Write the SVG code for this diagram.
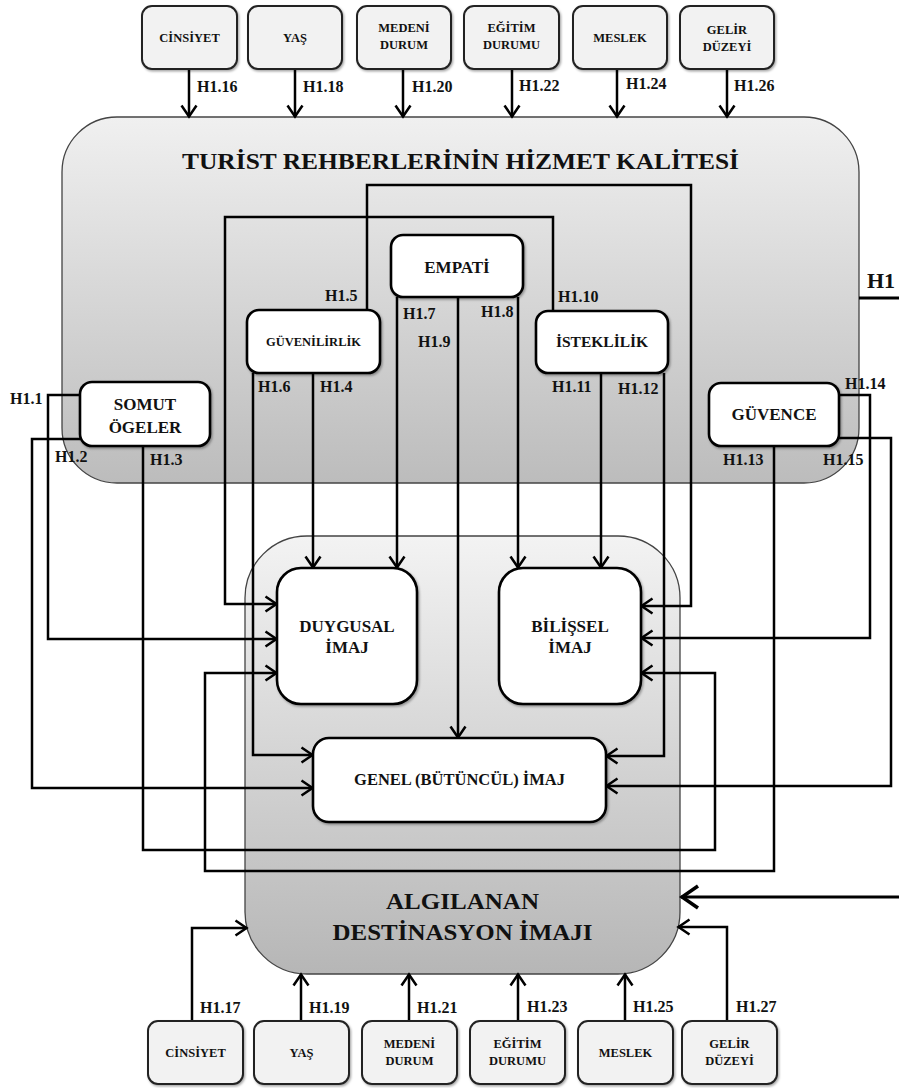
<svg xmlns="http://www.w3.org/2000/svg" width="899" height="1088" viewBox="0 0 899 1088">
<defs>
<linearGradient id="gTop" x1="0" y1="0" x2="0" y2="1">
<stop offset="0" stop-color="#f0f0f0"/>
<stop offset="1" stop-color="#bcbcbc"/>
</linearGradient>
<linearGradient id="gBot" x1="0" y1="0" x2="0" y2="1">
<stop offset="0" stop-color="#f3f3f3"/>
<stop offset="1" stop-color="#b6b6b6"/>
</linearGradient>
<filter id="sh" x="-10%" y="-10%" width="125%" height="125%">
<feDropShadow dx="1.2" dy="1.5" stdDeviation="1.2" flood-color="#000" flood-opacity="0.35"/>
</filter>
<marker id="ah" markerUnits="userSpaceOnUse" markerWidth="15" markerHeight="18" viewBox="0 0 15 18" refX="13" refY="9" orient="auto">
<path d="M1.5,1.5 L12.5,9 L1.5,16.5" fill="none" stroke="#000" stroke-width="2.5"/>
</marker>
<marker id="ahBig" markerUnits="userSpaceOnUse" markerWidth="22" markerHeight="26" viewBox="0 0 22 26" refX="20" refY="13" orient="auto">
<path d="M3,2 L19,13 L3,24" fill="none" stroke="#000" stroke-width="3.6"/>
</marker>
<style>
.cont{stroke:#444;stroke-width:1.3}
.demo{fill:#f2f2f2;stroke:#222;stroke-width:2;filter:url(#sh)}
.node{fill:#fff;stroke:#000;stroke-width:2.6;filter:url(#sh)}
text{font-family:"Liberation Serif","Times New Roman",serif;font-weight:bold;fill:#111}
.t{text-anchor:middle}
.ds{font-size:12.5px}
.lbl{font-size:16px}
.c path{fill:none;stroke:#000;stroke-width:2.5;marker-end:url(#ah)}
.c path.nm{marker-end:none}
</style>
</defs>
<rect width="899" height="1088" fill="#fff"/>

<g id="hizmet-kalitesi">
<rect class="cont" x="62" y="117" width="797" height="366" rx="55" fill="url(#gTop)"/>
<text class="t" x="460.5" y="169" font-size="24" textLength="557" lengthAdjust="spacingAndGlyphs">TURİST REHBERLERİNİN HİZMET KALİTESİ</text>
</g>
<g id="destinasyon-imaji">
<rect class="cont" x="245" y="536" width="435" height="438" rx="62" fill="url(#gBot)"/>
<text class="t" x="462.5" y="909" font-size="24" textLength="153" lengthAdjust="spacingAndGlyphs">ALGILANAN</text>
<text class="t" x="462.5" y="940" font-size="24" textLength="260" lengthAdjust="spacingAndGlyphs">DESTİNASYON İMAJI</text>
</g>

<g id="connectors" class="c">
<path d="M189,69 V117"/>
<path d="M295,69 V117"/>
<path d="M403,69 V117"/>
<path d="M512,69 V117"/>
<path d="M617,69 V117"/>
<path d="M727,69 V117"/>
<path d="M80,395 H48 V639 H277"/>
<path d="M80,439 H32 V788 H313"/>
<path d="M143,446 V850 H715 V673 H641"/>
<path d="M313,373 V568"/>
<path d="M367,310 V185 H691 V606 H641"/>
<path d="M253,373 V755 H313"/>
<path d="M397,297 V568"/>
<path d="M518,297 V568"/>
<path d="M458,297 V738"/>
<path d="M553,311 V217 H225 V604 H277"/>
<path d="M601,373 V568"/>
<path d="M664,373 V756 H606"/>
<path d="M774,446 V871 H205 V673 H277"/>
<path d="M839,395 H870 V638 H641"/>
<path d="M839,438 H891 V786 H606"/>
<path d="M192,1021 V928 H247"/>
<path d="M301,1021 V974"/>
<path d="M409,1021 V974"/>
<path d="M518,1021 V974"/>
<path d="M625,1021 V974"/>
<path d="M727,1021 V927 H678"/>
<path class="nm" d="M859,298 H899" style="stroke-width:3.2"/>
<path d="M899,897 H681" style="stroke-width:3.2;marker-end:url(#ahBig)"/>
</g>

<g id="labels" class="lbl">
<text x="197" y="92">H1.16</text>
<text x="303" y="92">H1.18</text>
<text x="412" y="92">H1.20</text>
<text x="519" y="91">H1.22</text>
<text x="626" y="89">H1.24</text>
<text x="734" y="91">H1.26</text>
<text x="325" y="301">H1.5</text>
<text x="403" y="319">H1.7</text>
<text x="418" y="347">H1.9</text>
<text x="481" y="317">H1.8</text>
<text x="558" y="302">H1.10</text>
<text x="258" y="392">H1.6</text>
<text x="320" y="392">H1.4</text>
<text x="552" y="392">H1.11</text>
<text x="618" y="394">H1.12</text>
<text x="10" y="404">H1.1</text>
<text x="55" y="462">H1.2</text>
<text x="150" y="465">H1.3</text>
<text x="845" y="389">H1.14</text>
<text x="723" y="465">H1.13</text>
<text x="823" y="465">H1.15</text>
<text x="200" y="1013">H1.17</text>
<text x="309" y="1013">H1.19</text>
<text x="417" y="1013">H1.21</text>
<text x="527" y="1012">H1.23</text>
<text x="633" y="1012">H1.25</text>
<text x="736" y="1012">H1.27</text>
<text x="867" y="288" font-size="22">H1</text>
</g>

<g id="cinsiyet-top"><rect class="demo" x="142" y="6" width="95" height="63" rx="10"/><text class="t ds" x="189.5" y="42">CİNSİYET</text></g>
<g id="yas-top"><rect class="demo" x="248" y="6" width="94" height="63" rx="10"/><text class="t ds" x="295" y="42">YAŞ</text></g>
<g id="medeni-top"><rect class="demo" x="357" y="6" width="94" height="63" rx="10"/><text class="t ds" x="404" y="32">MEDENİ</text><text class="t ds" x="404" y="49">DURUM</text></g>
<g id="egitim-top"><rect class="demo" x="464" y="6" width="95" height="63" rx="10"/><text class="t ds" x="511.5" y="32">EĞİTİM</text><text class="t ds" x="511.5" y="49">DURUMU</text></g>
<g id="meslek-top"><rect class="demo" x="573" y="6" width="94" height="63" rx="10"/><text class="t ds" x="620" y="42">MESLEK</text></g>
<g id="gelir-top"><rect class="demo" x="680" y="6" width="94" height="63" rx="10"/><text class="t ds" x="727" y="34">GELİR</text><text class="t ds" x="727" y="51">DÜZEYİ</text></g>

<g id="cinsiyet-bot"><rect class="demo" x="148" y="1021" width="95" height="63" rx="10"/><text class="t ds" x="195.5" y="1057">CİNSİYET</text></g>
<g id="yas-bot"><rect class="demo" x="254" y="1021" width="95" height="63" rx="10"/><text class="t ds" x="301.5" y="1057">YAŞ</text></g>
<g id="medeni-bot"><rect class="demo" x="362" y="1021" width="95" height="63" rx="10"/><text class="t ds" x="409.5" y="1048">MEDENİ</text><text class="t ds" x="409.5" y="1065">DURUM</text></g>
<g id="egitim-bot"><rect class="demo" x="470" y="1021" width="95" height="63" rx="10"/><text class="t ds" x="517.5" y="1048">EĞİTİM</text><text class="t ds" x="517.5" y="1065">DURUMU</text></g>
<g id="meslek-bot"><rect class="demo" x="578" y="1021" width="95" height="63" rx="10"/><text class="t ds" x="625.5" y="1057">MESLEK</text></g>
<g id="gelir-bot"><rect class="demo" x="682" y="1021" width="95" height="63" rx="10"/><text class="t ds" x="729.5" y="1048">GELİR</text><text class="t ds" x="729.5" y="1065">DÜZEYİ</text></g>

<g id="somut-ogeler"><rect class="node" x="80" y="382" width="130" height="64" rx="12"/><text class="t" x="145" y="410" font-size="17">SOMUT</text><text class="t" x="145" y="433" font-size="17">ÖGELER</text></g>
<g id="guvenilirlik"><rect class="node" x="247" y="310" width="133" height="63" rx="12"/><text class="t" x="313.5" y="346" font-size="12.5">GÜVENİLİRLİK</text></g>
<g id="empati"><rect class="node" x="391" y="235" width="132" height="62" rx="12"/><text class="t" x="457" y="273" font-size="17">EMPATİ</text></g>
<g id="isteklilik"><rect class="node" x="536" y="311" width="132" height="62" rx="12"/><text class="t" x="602" y="347" font-size="15.5">İSTEKLİLİK</text></g>
<g id="guvence"><rect class="node" x="709" y="383" width="130" height="63" rx="12"/><text class="t" x="774" y="420" font-size="17">GÜVENCE</text></g>
<g id="duygusal-imaj"><rect class="node" x="277" y="568" width="140" height="136" rx="24"/><text class="t" x="347" y="632" font-size="17">DUYGUSAL</text><text class="t" x="347" y="653" font-size="17">İMAJ</text></g>
<g id="bilissel-imaj"><rect class="node" x="499" y="568" width="142" height="136" rx="24"/><text class="t" x="570" y="632" font-size="17">BİLİŞSEL</text><text class="t" x="570" y="653" font-size="17">İMAJ</text></g>
<g id="genel-imaj"><rect class="node" x="313" y="738" width="293" height="84" rx="16"/><text class="t" x="459.5" y="785" font-size="16.5">GENEL (BÜTÜNCÜL) İMAJ</text></g>
</svg>
